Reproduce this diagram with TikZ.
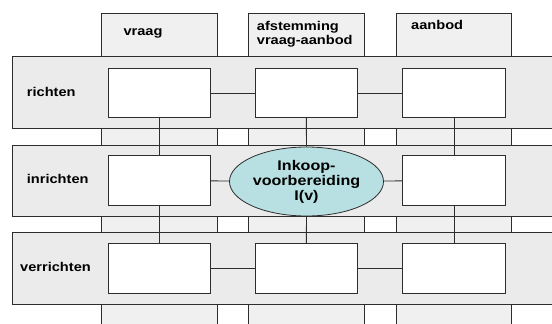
\documentclass[tikz,border=0pt]{standalone}
\usepackage{fontspec}
\setmainfont{Liberation Sans}[FakeStretch=1.15]
\definecolor{colgray}{RGB}{240, 240, 240}
\definecolor{rowgray}{RGB}{235, 235, 235}
\definecolor{linegray}{RGB}{45, 45, 45}
\definecolor{ellcyan}{RGB}{184, 224, 226}
\usetikzlibrary{shapes.geometric, positioning}

\tikzset{
  cell/.style={draw=linegray, fill=white, line width=0.9pt, minimum width=102.5pt, minimum height=49.5pt, inner sep=0pt},
  lbl/.style={font=\bfseries\fontsize{12.7}{14.3}\selectfont, inner sep=0pt, anchor=base west, align=left},
  link/.style={draw=linegray, line width=0.8pt}
}

\begin{document}
\begin{tikzpicture}[x=1pt, y=-1pt]
  \useasboundingbox (0, 0) rectangle (552, 324);

  % The columns
  \filldraw[fill=colgray, draw=linegray, line width=0.7pt] (101.7, 13.3) rectangle (217.3, 330);
  \filldraw[fill=colgray, draw=linegray, line width=0.7pt] (248.3, 13.3) rectangle (364.3, 330);
  \filldraw[fill=colgray, draw=linegray, line width=0.7pt] (396, 13.3) rectangle (511.7, 330);

  % The rows
  \filldraw[fill=rowgray, draw=linegray, line width=0.7pt] (12, 56.7) rectangle (560, 128.3);
  \filldraw[fill=rowgray, draw=linegray, line width=0.7pt] (12, 145) rectangle (560, 216.3);
  \filldraw[fill=rowgray, draw=linegray, line width=0.7pt] (12, 232.7) rectangle (560, 304.3);

  % Headers
  \node[lbl] (vraag) at (123.3, 35) {vraag};
  \node[lbl] (afstem) at (256.7, 45) {afstemming\\vraag-aanbod};
  \node[lbl] (aanbod) at (411, 30) {aanbod};

  \node[lbl] (richten) at (26.7, 96) {richten};
  \node[lbl] (inrichten) at (26.7, 183.3) {inrichten};
  \node[lbl] (verrichten) at (20, 271) {verrichten};

  % The cells
  \node[cell] (r1) at (159.5, 93) {};
  \node[cell] (r2) at (306.3, 93) {};
  \node[cell] (r3) at (454, 93) {};
  \node[cell] (i1) at (159.5, 180.5) {};
  \node[cell] (i3) at (454, 180.5) {};
  \node[cell] (v1) at (159.5, 268.3) {};
  \node[cell] (v2) at (306.3, 268.3) {};
  \node[cell] (v3) at (454, 268.3) {};

  \node[ellipse, draw=linegray, fill=ellcyan, line width=0.8pt, minimum width=154pt, minimum height=69pt, inner sep=0pt, align=center, font=\bfseries\fontsize{14}{15}\selectfont] (ikv) at (306.5, 181.5) {Inkoop-\\voorbereiding\\I(v)};

  % Connectors
  \draw[link] (r1) -- (r2);
  \draw[link] (r2) -- (r3);
  \draw[link] (i1) -- (ikv);
  \draw[link] (ikv) -- (i3);
  \draw[link] (v1) -- (v2);
  \draw[link] (v2) -- (v3);
  \draw[link] (r1) -- (i1);
  \draw[link] (i1) -- (v1);
  \draw[link] (r2) -- (ikv);
  \draw[link] (ikv) -- (v2);
  \draw[link] (r3) -- (i3);
  \draw[link] (i3) -- (v3);
\end{tikzpicture}
\end{document}
